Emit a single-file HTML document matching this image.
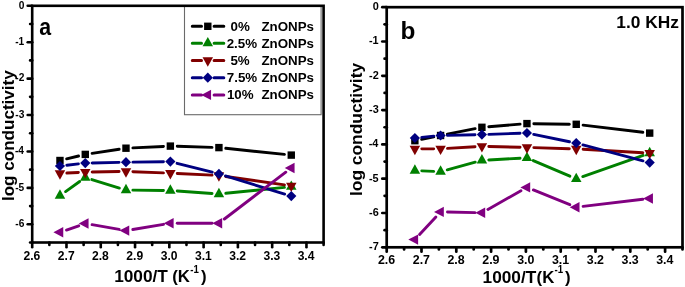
<!DOCTYPE html>
<html><head><meta charset="utf-8"><style>
html,body{margin:0;padding:0;background:#fff;width:685px;height:287px;overflow:hidden;}
svg{display:block;will-change:transform;}
text{font-family:"Liberation Sans",sans-serif;font-weight:bold;fill:#000;}
</style></head><body>
<svg width="685" height="287" viewBox="0 0 685 287">
<rect width="685" height="287" fill="#fff"/>
<rect x="184.5" y="5.8" width="136.6" height="108.9" fill="#fff" stroke="#6a6a6a" stroke-width="1.1"/>
<line x1="27.70" y1="5.80" x2="32.20" y2="5.80" stroke="#000" stroke-width="2.6" stroke-linecap="round"/>
<text transform="translate(18.75,8.50)" font-size="10.2">0</text>
<line x1="30.10" y1="24.01" x2="32.20" y2="24.01" stroke="#000" stroke-width="2.6" stroke-linecap="round"/>
<line x1="27.70" y1="42.22" x2="32.20" y2="42.22" stroke="#000" stroke-width="2.6" stroke-linecap="round"/>
<text transform="translate(15.23,44.92)" font-size="10.2">-1</text>
<line x1="30.10" y1="60.42" x2="32.20" y2="60.42" stroke="#000" stroke-width="2.6" stroke-linecap="round"/>
<line x1="27.70" y1="78.63" x2="32.20" y2="78.63" stroke="#000" stroke-width="2.6" stroke-linecap="round"/>
<text transform="translate(15.33,81.33)" font-size="10.2">-2</text>
<line x1="30.10" y1="96.84" x2="32.20" y2="96.84" stroke="#000" stroke-width="2.6" stroke-linecap="round"/>
<line x1="27.70" y1="115.05" x2="32.20" y2="115.05" stroke="#000" stroke-width="2.6" stroke-linecap="round"/>
<text transform="translate(15.33,117.75)" font-size="10.2">-3</text>
<line x1="30.10" y1="133.25" x2="32.20" y2="133.25" stroke="#000" stroke-width="2.6" stroke-linecap="round"/>
<line x1="27.70" y1="151.46" x2="32.20" y2="151.46" stroke="#000" stroke-width="2.6" stroke-linecap="round"/>
<text transform="translate(14.97,154.16)" font-size="10.2">-4</text>
<line x1="30.10" y1="169.67" x2="32.20" y2="169.67" stroke="#000" stroke-width="2.6" stroke-linecap="round"/>
<line x1="27.70" y1="187.88" x2="32.20" y2="187.88" stroke="#000" stroke-width="2.6" stroke-linecap="round"/>
<text transform="translate(15.23,190.58)" font-size="10.2">-5</text>
<line x1="30.10" y1="206.08" x2="32.20" y2="206.08" stroke="#000" stroke-width="2.6" stroke-linecap="round"/>
<line x1="27.70" y1="224.29" x2="32.20" y2="224.29" stroke="#000" stroke-width="2.6" stroke-linecap="round"/>
<text transform="translate(15.33,226.99)" font-size="10.2">-6</text>
<line x1="30.10" y1="242.50" x2="32.20" y2="242.50" stroke="#000" stroke-width="2.6" stroke-linecap="round"/>
<line x1="32.20" y1="242.50" x2="32.20" y2="247.30" stroke="#000" stroke-width="2.6" stroke-linecap="round"/>
<text transform="translate(23.49,259.50)" font-size="12.1">2.6</text>
<line x1="49.34" y1="242.50" x2="49.34" y2="244.90" stroke="#000" stroke-width="2.6" stroke-linecap="round"/>
<line x1="66.48" y1="242.50" x2="66.48" y2="247.30" stroke="#000" stroke-width="2.6" stroke-linecap="round"/>
<text transform="translate(57.83,259.50)" font-size="12.1">2.7</text>
<line x1="83.62" y1="242.50" x2="83.62" y2="244.90" stroke="#000" stroke-width="2.6" stroke-linecap="round"/>
<line x1="100.76" y1="242.50" x2="100.76" y2="247.30" stroke="#000" stroke-width="2.6" stroke-linecap="round"/>
<text transform="translate(92.02,259.50)" font-size="12.1">2.8</text>
<line x1="117.91" y1="242.50" x2="117.91" y2="244.90" stroke="#000" stroke-width="2.6" stroke-linecap="round"/>
<line x1="135.05" y1="242.50" x2="135.05" y2="247.30" stroke="#000" stroke-width="2.6" stroke-linecap="round"/>
<text transform="translate(126.34,259.50)" font-size="12.1">2.9</text>
<line x1="152.19" y1="242.50" x2="152.19" y2="244.90" stroke="#000" stroke-width="2.6" stroke-linecap="round"/>
<line x1="169.33" y1="242.50" x2="169.33" y2="247.30" stroke="#000" stroke-width="2.6" stroke-linecap="round"/>
<text transform="translate(160.71,259.50)" font-size="12.1">3.0</text>
<line x1="186.47" y1="242.50" x2="186.47" y2="244.90" stroke="#000" stroke-width="2.6" stroke-linecap="round"/>
<line x1="203.61" y1="242.50" x2="203.61" y2="247.30" stroke="#000" stroke-width="2.6" stroke-linecap="round"/>
<text transform="translate(194.93,259.50)" font-size="12.1">3.1</text>
<line x1="220.75" y1="242.50" x2="220.75" y2="244.90" stroke="#000" stroke-width="2.6" stroke-linecap="round"/>
<line x1="237.89" y1="242.50" x2="237.89" y2="247.30" stroke="#000" stroke-width="2.6" stroke-linecap="round"/>
<text transform="translate(229.28,259.50)" font-size="12.1">3.2</text>
<line x1="255.04" y1="242.50" x2="255.04" y2="244.90" stroke="#000" stroke-width="2.6" stroke-linecap="round"/>
<line x1="272.18" y1="242.50" x2="272.18" y2="247.30" stroke="#000" stroke-width="2.6" stroke-linecap="round"/>
<text transform="translate(263.53,259.50)" font-size="12.1">3.3</text>
<line x1="289.32" y1="242.50" x2="289.32" y2="244.90" stroke="#000" stroke-width="2.6" stroke-linecap="round"/>
<line x1="306.46" y1="242.50" x2="306.46" y2="247.30" stroke="#000" stroke-width="2.6" stroke-linecap="round"/>
<text transform="translate(297.63,259.50)" font-size="12.1">3.4</text>
<line x1="323.60" y1="242.50" x2="323.60" y2="244.90" stroke="#000" stroke-width="2.6" stroke-linecap="round"/>
<rect x="32.20" y="5.80" width="291.40" height="236.70" fill="none" stroke="#000" stroke-width="2.6"/>
<line x1="66.66" y1="158.88" x2="78.57" y2="156.02" stroke="#000000" stroke-width="2.9" stroke-linecap="round"/>
<line x1="92.10" y1="153.36" x2="119.16" y2="149.24" stroke="#000000" stroke-width="2.9" stroke-linecap="round"/>
<line x1="132.88" y1="147.87" x2="163.47" y2="146.43" stroke="#000000" stroke-width="2.9" stroke-linecap="round"/>
<line x1="177.26" y1="146.31" x2="212.02" y2="147.39" stroke="#000000" stroke-width="2.9" stroke-linecap="round"/>
<line x1="225.78" y1="148.31" x2="284.41" y2="154.39" stroke="#000000" stroke-width="2.9" stroke-linecap="round"/>
<rect x="56.26" y="156.80" width="7.40" height="7.40" fill="#000000"/>
<rect x="81.58" y="150.70" width="7.40" height="7.40" fill="#000000"/>
<rect x="122.28" y="144.50" width="7.40" height="7.40" fill="#000000"/>
<rect x="166.66" y="142.40" width="7.40" height="7.40" fill="#000000"/>
<rect x="215.22" y="143.90" width="7.40" height="7.40" fill="#000000"/>
<rect x="287.57" y="151.40" width="7.40" height="7.40" fill="#000000"/>
<line x1="65.57" y1="191.59" x2="79.66" y2="181.51" stroke="#008000" stroke-width="2.9" stroke-linecap="round"/>
<line x1="91.87" y1="179.54" x2="119.39" y2="188.06" stroke="#008000" stroke-width="2.9" stroke-linecap="round"/>
<line x1="132.88" y1="190.16" x2="163.46" y2="190.44" stroke="#008000" stroke-width="2.9" stroke-linecap="round"/>
<line x1="177.24" y1="191.00" x2="212.04" y2="193.50" stroke="#008000" stroke-width="2.9" stroke-linecap="round"/>
<line x1="225.79" y1="193.31" x2="284.41" y2="187.39" stroke="#008000" stroke-width="2.9" stroke-linecap="round"/>
<polygon points="59.96,189.33 65.21,198.73 54.71,198.73" fill="#008000"/>
<polygon points="85.28,171.23 90.53,180.63 80.03,180.63" fill="#008000"/>
<polygon points="125.98,183.83 131.23,193.23 120.73,193.23" fill="#008000"/>
<polygon points="170.36,184.23 175.61,193.63 165.11,193.63" fill="#008000"/>
<polygon points="218.92,187.73 224.17,197.13 213.67,197.13" fill="#008000"/>
<polygon points="291.27,180.43 296.52,189.83 286.02,189.83" fill="#008000"/>
<line x1="66.85" y1="173.05" x2="78.39" y2="172.45" stroke="#800000" stroke-width="2.9" stroke-linecap="round"/>
<line x1="92.18" y1="171.98" x2="119.08" y2="171.52" stroke="#800000" stroke-width="2.9" stroke-linecap="round"/>
<line x1="132.88" y1="171.68" x2="163.46" y2="172.92" stroke="#800000" stroke-width="2.9" stroke-linecap="round"/>
<line x1="177.25" y1="173.53" x2="212.03" y2="175.17" stroke="#800000" stroke-width="2.9" stroke-linecap="round"/>
<line x1="225.75" y1="176.47" x2="284.44" y2="184.83" stroke="#800000" stroke-width="2.9" stroke-linecap="round"/>
<polygon points="54.71,170.27 65.21,170.27 59.96,179.67" fill="#800000"/>
<polygon points="80.03,168.97 90.53,168.97 85.28,178.37" fill="#800000"/>
<polygon points="120.73,168.27 131.23,168.27 125.98,177.67" fill="#800000"/>
<polygon points="165.11,170.07 175.61,170.07 170.36,179.47" fill="#800000"/>
<polygon points="213.67,172.37 224.17,172.37 218.92,181.77" fill="#800000"/>
<polygon points="286.02,182.67 296.52,182.67 291.27,192.07" fill="#800000"/>
<line x1="66.81" y1="165.21" x2="78.42" y2="163.89" stroke="#000080" stroke-width="2.9" stroke-linecap="round"/>
<line x1="92.17" y1="162.95" x2="119.09" y2="162.35" stroke="#000080" stroke-width="2.9" stroke-linecap="round"/>
<line x1="132.88" y1="162.11" x2="163.46" y2="161.69" stroke="#000080" stroke-width="2.9" stroke-linecap="round"/>
<line x1="177.05" y1="163.29" x2="212.23" y2="172.21" stroke="#000080" stroke-width="2.9" stroke-linecap="round"/>
<line x1="225.52" y1="175.92" x2="284.68" y2="194.08" stroke="#000080" stroke-width="2.9" stroke-linecap="round"/>
<polygon points="59.96,160.90 65.06,166.00 59.96,171.10 54.86,166.00" fill="#000080"/>
<polygon points="85.28,158.00 90.38,163.10 85.28,168.20 80.18,163.10" fill="#000080"/>
<polygon points="125.98,157.10 131.08,162.20 125.98,167.30 120.88,162.20" fill="#000080"/>
<polygon points="170.36,156.50 175.46,161.60 170.36,166.70 165.26,161.60" fill="#000080"/>
<polygon points="218.92,168.80 224.02,173.90 218.92,179.00 213.82,173.90" fill="#000080"/>
<polygon points="291.27,191.00 296.37,196.10 291.27,201.20 286.17,196.10" fill="#000080"/>
<line x1="66.47" y1="230.03" x2="78.76" y2="225.77" stroke="#800080" stroke-width="2.9" stroke-linecap="round"/>
<line x1="92.07" y1="224.69" x2="119.19" y2="229.41" stroke="#800080" stroke-width="2.9" stroke-linecap="round"/>
<line x1="132.79" y1="229.47" x2="163.55" y2="224.33" stroke="#800080" stroke-width="2.9" stroke-linecap="round"/>
<line x1="177.26" y1="223.20" x2="212.02" y2="223.20" stroke="#800080" stroke-width="2.9" stroke-linecap="round"/>
<line x1="224.41" y1="219.01" x2="285.79" y2="172.19" stroke="#800080" stroke-width="2.9" stroke-linecap="round"/>
<polygon points="53.42,232.30 63.22,227.10 63.22,237.50" fill="#800080"/>
<polygon points="78.74,223.50 88.54,218.30 88.54,228.70" fill="#800080"/>
<polygon points="119.45,230.60 129.25,225.40 129.25,235.80" fill="#800080"/>
<polygon points="163.83,223.20 173.63,218.00 173.63,228.40" fill="#800080"/>
<polygon points="212.39,223.20 222.19,218.00 222.19,228.40" fill="#800080"/>
<polygon points="284.74,168.00 294.54,162.80 294.54,173.20" fill="#800080"/>
<line x1="382.30" y1="7.20" x2="386.70" y2="7.20" stroke="#000" stroke-width="2.7" stroke-linecap="round"/>
<text transform="translate(372.68,10.00) scale(1.0500,1)" font-size="10.4">0</text>
<line x1="384.60" y1="24.35" x2="386.70" y2="24.35" stroke="#000" stroke-width="2.7" stroke-linecap="round"/>
<line x1="382.30" y1="41.50" x2="386.70" y2="41.50" stroke="#000" stroke-width="2.7" stroke-linecap="round"/>
<text transform="translate(368.91,44.30) scale(1.0500,1)" font-size="10.4">-1</text>
<line x1="384.60" y1="58.65" x2="386.70" y2="58.65" stroke="#000" stroke-width="2.7" stroke-linecap="round"/>
<line x1="382.30" y1="75.80" x2="386.70" y2="75.80" stroke="#000" stroke-width="2.7" stroke-linecap="round"/>
<text transform="translate(369.02,78.60) scale(1.0500,1)" font-size="10.4">-2</text>
<line x1="384.60" y1="92.95" x2="386.70" y2="92.95" stroke="#000" stroke-width="2.7" stroke-linecap="round"/>
<line x1="382.30" y1="110.10" x2="386.70" y2="110.10" stroke="#000" stroke-width="2.7" stroke-linecap="round"/>
<text transform="translate(369.02,112.90) scale(1.0500,1)" font-size="10.4">-3</text>
<line x1="384.60" y1="127.25" x2="386.70" y2="127.25" stroke="#000" stroke-width="2.7" stroke-linecap="round"/>
<line x1="382.30" y1="144.40" x2="386.70" y2="144.40" stroke="#000" stroke-width="2.7" stroke-linecap="round"/>
<text transform="translate(368.64,147.20) scale(1.0500,1)" font-size="10.4">-4</text>
<line x1="384.60" y1="161.55" x2="386.70" y2="161.55" stroke="#000" stroke-width="2.7" stroke-linecap="round"/>
<line x1="382.30" y1="178.70" x2="386.70" y2="178.70" stroke="#000" stroke-width="2.7" stroke-linecap="round"/>
<text transform="translate(368.91,181.50) scale(1.0500,1)" font-size="10.4">-5</text>
<line x1="384.60" y1="195.85" x2="386.70" y2="195.85" stroke="#000" stroke-width="2.7" stroke-linecap="round"/>
<line x1="382.30" y1="213.00" x2="386.70" y2="213.00" stroke="#000" stroke-width="2.7" stroke-linecap="round"/>
<text transform="translate(369.02,215.80) scale(1.0500,1)" font-size="10.4">-6</text>
<line x1="384.60" y1="230.15" x2="386.70" y2="230.15" stroke="#000" stroke-width="2.7" stroke-linecap="round"/>
<line x1="382.30" y1="247.30" x2="386.70" y2="247.30" stroke="#000" stroke-width="2.7" stroke-linecap="round"/>
<text transform="translate(369.07,250.10) scale(1.0500,1)" font-size="10.4">-7</text>
<line x1="386.70" y1="247.30" x2="386.70" y2="251.70" stroke="#000" stroke-width="2.7" stroke-linecap="round"/>
<text transform="translate(377.88,264.00)" font-size="12.4">2.6</text>
<line x1="404.10" y1="247.30" x2="404.10" y2="249.50" stroke="#000" stroke-width="2.7" stroke-linecap="round"/>
<line x1="421.50" y1="247.30" x2="421.50" y2="251.70" stroke="#000" stroke-width="2.7" stroke-linecap="round"/>
<text transform="translate(412.74,264.00)" font-size="12.4">2.7</text>
<line x1="438.90" y1="247.30" x2="438.90" y2="249.50" stroke="#000" stroke-width="2.7" stroke-linecap="round"/>
<line x1="456.30" y1="247.30" x2="456.30" y2="251.70" stroke="#000" stroke-width="2.7" stroke-linecap="round"/>
<text transform="translate(447.45,264.00)" font-size="12.4">2.8</text>
<line x1="473.70" y1="247.30" x2="473.70" y2="249.50" stroke="#000" stroke-width="2.7" stroke-linecap="round"/>
<line x1="491.10" y1="247.30" x2="491.10" y2="251.70" stroke="#000" stroke-width="2.7" stroke-linecap="round"/>
<text transform="translate(482.28,264.00)" font-size="12.4">2.9</text>
<line x1="508.50" y1="247.30" x2="508.50" y2="249.50" stroke="#000" stroke-width="2.7" stroke-linecap="round"/>
<line x1="525.90" y1="247.30" x2="525.90" y2="251.70" stroke="#000" stroke-width="2.7" stroke-linecap="round"/>
<text transform="translate(517.17,264.00)" font-size="12.4">3.0</text>
<line x1="543.30" y1="247.30" x2="543.30" y2="249.50" stroke="#000" stroke-width="2.7" stroke-linecap="round"/>
<line x1="560.70" y1="247.30" x2="560.70" y2="251.70" stroke="#000" stroke-width="2.7" stroke-linecap="round"/>
<text transform="translate(551.91,264.00)" font-size="12.4">3.1</text>
<line x1="578.10" y1="247.30" x2="578.10" y2="249.50" stroke="#000" stroke-width="2.7" stroke-linecap="round"/>
<line x1="595.50" y1="247.30" x2="595.50" y2="251.70" stroke="#000" stroke-width="2.7" stroke-linecap="round"/>
<text transform="translate(586.77,264.00)" font-size="12.4">3.2</text>
<line x1="612.90" y1="247.30" x2="612.90" y2="249.50" stroke="#000" stroke-width="2.7" stroke-linecap="round"/>
<line x1="630.30" y1="247.30" x2="630.30" y2="251.70" stroke="#000" stroke-width="2.7" stroke-linecap="round"/>
<text transform="translate(621.54,264.00)" font-size="12.4">3.3</text>
<line x1="647.70" y1="247.30" x2="647.70" y2="249.50" stroke="#000" stroke-width="2.7" stroke-linecap="round"/>
<line x1="665.10" y1="247.30" x2="665.10" y2="251.70" stroke="#000" stroke-width="2.7" stroke-linecap="round"/>
<text transform="translate(656.16,264.00)" font-size="12.4">3.4</text>
<line x1="682.50" y1="247.30" x2="682.50" y2="249.50" stroke="#000" stroke-width="2.7" stroke-linecap="round"/>
<rect x="386.70" y="7.20" width="295.80" height="240.10" fill="none" stroke="#000" stroke-width="2.7"/>
<line x1="421.64" y1="139.33" x2="433.81" y2="136.87" stroke="#000000" stroke-width="2.9" stroke-linecap="round"/>
<line x1="447.35" y1="134.16" x2="475.13" y2="128.64" stroke="#000000" stroke-width="2.9" stroke-linecap="round"/>
<line x1="488.78" y1="126.74" x2="520.07" y2="124.16" stroke="#000000" stroke-width="2.9" stroke-linecap="round"/>
<line x1="533.84" y1="123.70" x2="569.34" y2="124.20" stroke="#000000" stroke-width="2.9" stroke-linecap="round"/>
<line x1="583.09" y1="125.12" x2="642.83" y2="132.28" stroke="#000000" stroke-width="2.9" stroke-linecap="round"/>
<rect x="411.18" y="137.00" width="7.40" height="7.40" fill="#000000"/>
<rect x="436.88" y="131.80" width="7.40" height="7.40" fill="#000000"/>
<rect x="478.20" y="123.60" width="7.40" height="7.40" fill="#000000"/>
<rect x="523.25" y="119.90" width="7.40" height="7.40" fill="#000000"/>
<rect x="572.54" y="120.60" width="7.40" height="7.40" fill="#000000"/>
<rect x="645.99" y="129.40" width="7.40" height="7.40" fill="#000000"/>
<line x1="421.77" y1="170.87" x2="433.68" y2="171.33" stroke="#008000" stroke-width="2.9" stroke-linecap="round"/>
<line x1="447.23" y1="169.78" x2="475.24" y2="162.12" stroke="#008000" stroke-width="2.9" stroke-linecap="round"/>
<line x1="488.79" y1="159.93" x2="520.05" y2="158.27" stroke="#008000" stroke-width="2.9" stroke-linecap="round"/>
<line x1="533.29" y1="160.60" x2="569.89" y2="176.20" stroke="#008000" stroke-width="2.9" stroke-linecap="round"/>
<line x1="582.75" y1="176.61" x2="643.18" y2="155.39" stroke="#008000" stroke-width="2.9" stroke-linecap="round"/>
<polygon points="414.88,164.33 420.13,173.73 409.63,173.73" fill="#008000"/>
<polygon points="440.58,165.33 445.83,174.73 435.33,174.73" fill="#008000"/>
<polygon points="481.90,154.03 487.15,163.43 476.65,163.43" fill="#008000"/>
<polygon points="526.95,151.63 532.20,161.03 521.70,161.03" fill="#008000"/>
<polygon points="576.24,172.63 581.49,182.03 570.99,182.03" fill="#008000"/>
<polygon points="649.69,146.83 654.94,156.23 644.44,156.23" fill="#008000"/>
<line x1="421.78" y1="148.87" x2="433.68" y2="148.83" stroke="#800000" stroke-width="2.9" stroke-linecap="round"/>
<line x1="447.47" y1="148.38" x2="475.01" y2="146.72" stroke="#800000" stroke-width="2.9" stroke-linecap="round"/>
<line x1="488.80" y1="146.47" x2="520.05" y2="147.23" stroke="#800000" stroke-width="2.9" stroke-linecap="round"/>
<line x1="533.84" y1="147.61" x2="569.34" y2="148.69" stroke="#800000" stroke-width="2.9" stroke-linecap="round"/>
<line x1="583.13" y1="149.29" x2="642.80" y2="152.71" stroke="#800000" stroke-width="2.9" stroke-linecap="round"/>
<polygon points="409.63,145.77 420.13,145.77 414.88,155.17" fill="#800000"/>
<polygon points="435.33,145.67 445.83,145.67 440.58,155.07" fill="#800000"/>
<polygon points="476.65,143.17 487.15,143.17 481.90,152.57" fill="#800000"/>
<polygon points="521.70,144.27 532.20,144.27 526.95,153.67" fill="#800000"/>
<polygon points="570.99,145.77 581.49,145.77 576.24,155.17" fill="#800000"/>
<polygon points="644.44,149.97 654.94,149.97 649.69,159.37" fill="#800000"/>
<line x1="421.74" y1="137.33" x2="433.71" y2="136.17" stroke="#000080" stroke-width="2.9" stroke-linecap="round"/>
<line x1="447.48" y1="135.35" x2="475.00" y2="134.75" stroke="#000080" stroke-width="2.9" stroke-linecap="round"/>
<line x1="488.80" y1="134.36" x2="520.05" y2="133.24" stroke="#000080" stroke-width="2.9" stroke-linecap="round"/>
<line x1="533.70" y1="134.38" x2="569.48" y2="141.72" stroke="#000080" stroke-width="2.9" stroke-linecap="round"/>
<line x1="582.91" y1="144.87" x2="643.02" y2="160.83" stroke="#000080" stroke-width="2.9" stroke-linecap="round"/>
<polygon points="414.88,132.90 419.98,138.00 414.88,143.10 409.78,138.00" fill="#000080"/>
<polygon points="440.58,130.40 445.68,135.50 440.58,140.60 435.48,135.50" fill="#000080"/>
<polygon points="481.90,129.50 487.00,134.60 481.90,139.70 476.80,134.60" fill="#000080"/>
<polygon points="526.95,127.90 532.05,133.00 526.95,138.10 521.85,133.00" fill="#000080"/>
<polygon points="576.24,138.00 581.34,143.10 576.24,148.20 571.14,143.10" fill="#000080"/>
<polygon points="649.69,157.50 654.79,162.60 649.69,167.70 644.59,162.60" fill="#000080"/>
<line x1="419.57" y1="234.54" x2="435.88" y2="216.96" stroke="#800080" stroke-width="2.9" stroke-linecap="round"/>
<line x1="447.48" y1="212.05" x2="475.00" y2="212.65" stroke="#800080" stroke-width="2.9" stroke-linecap="round"/>
<line x1="487.91" y1="209.41" x2="520.93" y2="190.79" stroke="#800080" stroke-width="2.9" stroke-linecap="round"/>
<line x1="533.35" y1="189.97" x2="569.84" y2="204.63" stroke="#800080" stroke-width="2.9" stroke-linecap="round"/>
<line x1="583.09" y1="206.39" x2="642.83" y2="199.31" stroke="#800080" stroke-width="2.9" stroke-linecap="round"/>
<polygon points="408.34,239.60 418.14,234.40 418.14,244.80" fill="#800080"/>
<polygon points="434.04,211.90 443.84,206.70 443.84,217.10" fill="#800080"/>
<polygon points="475.37,212.80 485.17,207.60 485.17,218.00" fill="#800080"/>
<polygon points="520.41,187.40 530.21,182.20 530.21,192.60" fill="#800080"/>
<polygon points="569.71,207.20 579.51,202.00 579.51,212.40" fill="#800080"/>
<polygon points="643.15,198.50 652.95,193.30 652.95,203.70" fill="#800080"/>
<path d="M192.3 26.30H201.50M214.10 26.30H223.8" stroke="#000000" stroke-width="3.0" stroke-linecap="round" fill="none"/>
<rect x="204.10" y="22.60" width="7.40" height="7.40" fill="#000000"/>
<text transform="translate(230.57,30.60) scale(1.0600,1)" font-size="12.6">0%</text>
<text transform="translate(261.40,30.60) scale(1.0600,1)" font-size="12.6">ZnONPs</text>
<path d="M192.3 43.20H201.50M214.10 43.20H223.8" stroke="#008000" stroke-width="3.0" stroke-linecap="round" fill="none"/>
<polygon points="207.80,36.93 213.05,46.33 202.55,46.33" fill="#008000"/>
<text transform="translate(226.63,47.50) scale(1.0600,1)" font-size="12.6">2.5%</text>
<text transform="translate(261.40,47.50) scale(1.0600,1)" font-size="12.6">ZnONPs</text>
<path d="M192.3 60.50H201.50M214.10 60.50H223.8" stroke="#800000" stroke-width="3.0" stroke-linecap="round" fill="none"/>
<polygon points="202.55,57.37 213.05,57.37 207.80,66.77" fill="#800000"/>
<text transform="translate(230.40,64.80) scale(1.0600,1)" font-size="12.6">5%</text>
<text transform="translate(261.40,64.80) scale(1.0600,1)" font-size="12.6">ZnONPs</text>
<path d="M192.3 77.70H201.50M214.10 77.70H223.8" stroke="#000080" stroke-width="3.0" stroke-linecap="round" fill="none"/>
<polygon points="207.80,72.60 212.90,77.70 207.80,82.80 202.70,77.70" fill="#000080"/>
<text transform="translate(226.80,82.00) scale(1.0600,1)" font-size="12.6">7.5%</text>
<text transform="translate(261.40,82.00) scale(1.0600,1)" font-size="12.6">ZnONPs</text>
<path d="M192.3 94.90H201.50M214.10 94.90H223.8" stroke="#800080" stroke-width="3.0" stroke-linecap="round" fill="none"/>
<polygon points="201.27,94.90 211.07,89.70 211.07,100.10" fill="#800080"/>
<text transform="translate(226.93,99.20) scale(1.0600,1)" font-size="12.6">10%</text>
<text transform="translate(261.40,99.20) scale(1.0600,1)" font-size="12.6">ZnONPs</text>
<text transform="translate(39.16,34.60) scale(0.8800,1)" font-size="24.2">a</text>
<text transform="translate(400.42,38.60) scale(1.0200,1)" font-size="23.9">b</text>
<text transform="translate(616.27,28.10) scale(1.0200,1)" font-size="17.0">1.0 KHz</text>
<text transform="translate(13.70,201.10) rotate(-90) scale(1.0548,1)" font-size="16.2">log conductivity</text>
<text transform="translate(362.20,196.02) rotate(-90) scale(0.9987,1)" font-size="17.4">log conductivity</text>
<text transform="translate(114.18,282.40)" font-size="17.25">1000/T</text>
<text transform="translate(172.26,282.40)" font-size="16.8">(K</text>
<text transform="translate(190.24,272.60) scale(0.9500,1)" font-size="10.2">-1</text>
<text transform="translate(201.02,282.40)" font-size="16.8">)</text>
<text transform="translate(482.58,282.70)" font-size="17.25">1000/T</text>
<text transform="translate(536.56,282.70)" font-size="16.8">(K</text>
<text transform="translate(554.44,273.00) scale(0.9500,1)" font-size="10.2">-1</text>
<text transform="translate(565.02,282.70)" font-size="16.8">)</text>
</svg>
</body></html>
